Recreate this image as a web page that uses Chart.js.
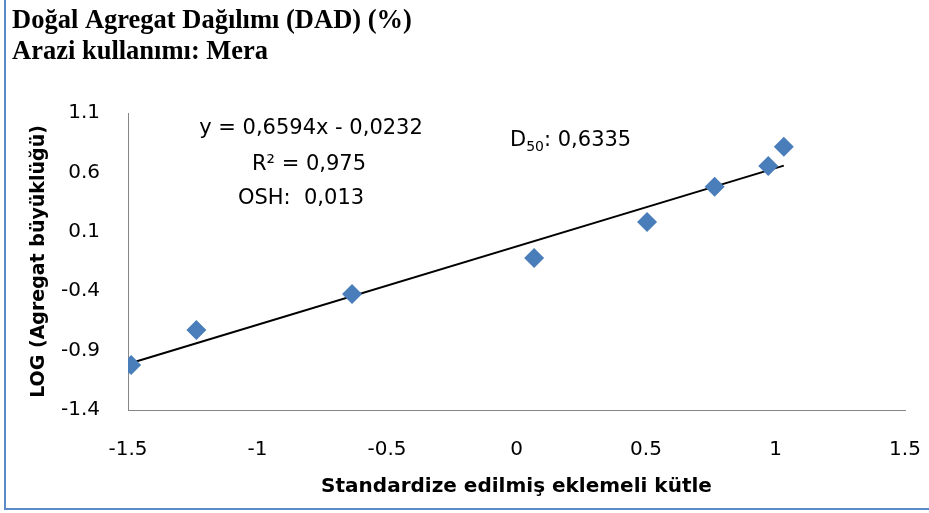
<!DOCTYPE html>
<html>
<head>
<meta charset="utf-8">
<script src="https://cdn.jsdelivr.net/npm/chart.js@4/dist/chart.umd.min.js"></script>
<style>
  html, body { margin: 0; padding: 0; background: #ffffff; }
  #wrap { position: relative; width: 929px; height: 513px; }
</style>
</head>
<body>
<div id="wrap"><canvas id="c" width="929" height="513"></canvas></div>
<script>
// Standardized cumulative mass (x) vs LOG of aggregate size (y)
const xValues = [-1.488, -1.236, -0.635, 0.068, 0.504, 0.765, 0.972, 1.032];
const yValues = [-1.022, -0.727, -0.424, -0.121, 0.182, 0.480, 0.654, 0.816];

// Linear fit reported on the chart
const slope = 0.6594;
const intercept = -0.0232;

const xTicks = [-1.5, -1, -0.5, 0, 0.5, 1, 1.5];
const yTicks = [-1.4, -0.9, -0.4, 0.1, 0.6, 1.1];

const titleLines = ['Doğal Agregat Dağılımı (DAD) (%)', 'Arazi kullanımı: Mera'];
const xTitle = 'Standardize edilmiş eklemeli kütle';
const yTitle = 'LOG (Agregat büyüklüğü)';
const eqLines = ['y = 0,6594x - 0,0232', 'R² = 0,975', 'OSH:  0,013'];
const d50Value = '0,6335';

const points = xValues.map((x, i) => ({ x, y: yValues[i] }));
const xFirst = Math.min(...xValues), xLast = Math.max(...xValues);
const fitLine = [
  { x: xFirst, y: slope * xFirst + intercept },
  { x: xLast, y: slope * xLast + intercept }
];

const SANS = '"DejaVu Sans", sans-serif';
const BLUE = '#4A7EBB';

const decor = {
  id: 'decor',
  beforeDraw(chart) {
    const ctx = chart.ctx;
    ctx.save();
    ctx.fillStyle = '#ffffff';
    ctx.fillRect(0, 0, chart.width, chart.height);
    // frame edges (left and bottom)
    ctx.fillStyle = '#5B8BC9';
    ctx.fillRect(4, 0, 2, 510);
    ctx.fillRect(4, 508, chart.width - 4, 2);
    ctx.restore();
  },
  afterDraw(chart) {
    const ctx = chart.ctx;
    ctx.save();
    ctx.fillStyle = '#000000';
    ctx.textBaseline = 'alphabetic';
    // heading
    ctx.font = 'bold 26.5px "Liberation Serif", "Times New Roman", serif';
    ctx.textAlign = 'left';
    ctx.fillText(titleLines[0], 12, 28);
    ctx.fillText(titleLines[1], 12, 59);

    // regression annotation
    ctx.font = '21px ' + SANS;
    ctx.textAlign = 'center';
    ctx.fillText(eqLines[0], 311, 134);
    ctx.fillText(eqLines[1], 309, 170);
    ctx.fillText(eqLines[2], 301, 204);

    // D50 label with subscript
    ctx.textAlign = 'left';
    let x = 510;
    ctx.font = '21px ' + SANS;
    ctx.fillText('D', x, 146);
    x += ctx.measureText('D').width;
    ctx.font = '14px ' + SANS;
    ctx.fillText('50', x, 151);
    x += ctx.measureText('50').width;
    ctx.font = '21px ' + SANS;
    ctx.fillText(': ' + d50Value, x, 146);
    ctx.restore();
  }
};

new Chart(document.getElementById('c'), {
  type: 'scatter',
  data: {
    datasets: [
      {
        label: 'Trend',
        type: 'line',
        data: fitLine,
        borderColor: '#000000',
        borderWidth: 2,
        pointRadius: 0,
        fill: false,
        order: 2
      },
      {
        label: 'DAD',
        data: points,
        pointStyle: 'rectRot',
        pointRadius: 10,
        pointHoverRadius: 10,
        backgroundColor: BLUE,
        borderColor: BLUE,
        borderWidth: 0,
        order: 1
      }
    ]
  },
  options: {
    responsive: false,
    animation: false,
    events: [],
    layout: { padding: { top: 113, right: 24, left: 0, bottom: 0 } },
    plugins: { legend: { display: false }, tooltip: { enabled: false }, title: { display: false } },
    scales: {
      x: {
        type: 'linear',
        min: -1.5, max: 1.5,
        afterBuildTicks(scale) { scale.ticks = xTicks.map(v => ({ value: v })); },
        afterFit(scale) { scale.height = 103; },
        grid: { display: false, drawTicks: true, tickLength: 24 },
        border: { display: true, color: '#868686', width: 1 },
        ticks: {
          color: '#000000',
          font: { family: SANS, size: 20 },
          padding: 4,
          maxRotation: 0,
          callback: v => String(v)
        },
        title: {
          display: true,
          text: xTitle,
          color: '#000000',
          font: { family: SANS, size: 20, weight: 'bold' },
          padding: { top: 0, bottom: 14 }
        }
      },
      y: {
        type: 'linear',
        min: -1.4, max: 1.1,
        afterBuildTicks(scale) { scale.ticks = yTicks.map(v => ({ value: v })); },
        afterFit(scale) { scale.width = 128; },
        grid: { display: false, drawTicks: false, tickLength: 0 },
        border: { display: true, color: '#868686', width: 1 },
        ticks: {
          color: '#000000',
          font: { family: SANS, size: 20 },
          padding: 28,
          callback: v => String(v)
        },
        title: {
          display: true,
          text: yTitle,
          color: '#000000',
          font: { family: SANS, size: 19, weight: 'bold' },
          padding: { top: 28, bottom: 0 }
        }
      }
    }
  },
  plugins: [decor]
});
</script>
</body>
</html>
